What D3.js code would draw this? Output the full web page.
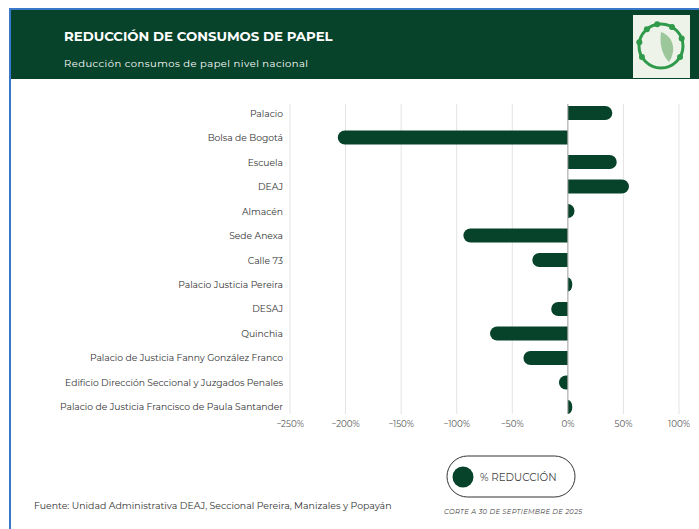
<!DOCTYPE html>
<html>
<head>
<meta charset="utf-8">
<script src="https://cdn.jsdelivr.net/npm/d3@7"></script>
<style>
  body { margin: 0; background: #fff; }
  svg { display: block; font-family: "Montserrat", "Noto Sans", sans-serif; }
</style>
</head>
<body>
<div id="chart"></div>
<script>
// data
const sedes = ["Palacio", "Bolsa de Bogotá", "Escuela", "DEAJ", "Almacén", "Sede Anexa",
  "Calle 73", "Palacio Justicia Pereira", "DESAJ", "Quinchia",
  "Palacio de Justicia Fanny González Franco",
  "Edificio Dirección Seccional y Juzgados Penales",
  "Palacio de Justicia Francisco de Paula Santander"];
const reduccion = [0.40, -2.07, 0.44, 0.55, 0.06, -0.94, -0.32, 0.04, -0.15, -0.70, -0.40, -0.08, 0.04];
const ticks = [-2.5, -2, -1.5, -1, -0.5, 0, 0.5, 1];

const width = 699, height = 529;
const green = "#07432a";

const svg = d3.select("#chart").append("svg")
    .attr("width", width)
    .attr("height", height);

// blue frame
svg.append("rect")
    .attr("x", 10).attr("y", 9)
    .attr("width", width).attr("height", height)
    .attr("fill", "none")
    .attr("stroke", "#3a78c9")
    .attr("stroke-width", 2);

// header band
svg.append("rect")
    .attr("x", 11).attr("y", 10)
    .attr("width", width - 11).attr("height", 69)
    .attr("fill", green);

svg.append("text")
    .attr("x", 64).attr("y", 41)
    .attr("fill", "#fff")
    .attr("font-size", 13.3)
    .attr("font-weight", "bold")
    .text("REDUCCIÓN DE CONSUMOS DE PAPEL");

svg.append("text")
    .attr("x", 64).attr("y", 67)
    .attr("fill", "#fff")
    .attr("font-size", 10)
    .attr("letter-spacing", 0.45)
    .text("Reducción consumos de papel nivel nacional");

// logo (rough)
const logo = svg.append("g").attr("transform", "translate(661,46)");
logo.append("rect")
    .attr("x", -28).attr("y", -31)
    .attr("width", 57).attr("height", 63)
    .attr("fill", "#eef3ea");
logo.append("circle")
    .attr("r", 22)
    .attr("fill", "none")
    .attr("stroke", "#2f9a4a")
    .attr("stroke-width", 3);
logo.append("path")
    .attr("d", "M0,-14 C12,-10 16,4 8,16 C2,10 -2,0 0,-14 Z")
    .attr("fill", "#9cc79a");
logo.selectAll("circle.dot")
    .data([-100, -60, -20, 30, 150, 190, 230])
    .join("circle")
      .attr("class", "dot")
      .attr("cx", d => 22 * Math.cos(d * Math.PI / 180))
      .attr("cy", d => 22 * Math.sin(d * Math.PI / 180))
      .attr("r", 3)
      .attr("fill", "#2f9a4a");

// scales
const x = d3.scaleLinear().domain([-2.5, 1]).range([290, 679]);
const y = d3.scaleBand().domain(sedes).range([101, 419]).paddingInner(0.42).paddingOuter(0.2);

// grid
svg.append("g")
  .selectAll("line")
  .data(ticks)
  .join("line")
    .attr("x1", d => x(d)).attr("x2", d => x(d))
    .attr("y1", 104).attr("y2", 414)
    .attr("stroke", "#e3e3e3")
    .attr("stroke-width", 1);

// tick labels
svg.append("g")
  .selectAll("text")
  .data(ticks)
  .join("text")
    .attr("x", d => x(d))
    .attr("y", 427)
    .attr("text-anchor", "middle")
    .attr("font-size", 8.7)
    .attr("fill", "#555")
    .text(d => d3.format(".0%")(d));

// category labels
svg.append("g")
  .selectAll("text")
  .data(sedes)
  .join("text")
    .attr("x", 283)
    .attr("y", d => y(d) + y.bandwidth() / 2 + 3.5)
    .attr("text-anchor", "end")
    .attr("font-size", 9.2)
    .attr("fill", "#333")
    .text(d => d);

// bars: rounded at the far end only
const r = y.bandwidth() / 2;
function barPath(v, yy) {
  const x0 = x(0), x1 = x(v), h = y.bandwidth();
  const dir = v >= 0 ? 1 : -1;
  const len = Math.abs(x1 - x0);
  const rr = Math.min(r, len);
  const xs = x1 - dir * rr;
  return `M${x0},${yy} L${xs},${yy} A${rr},${r} 0 0 ${dir > 0 ? 1 : 0} ${xs},${yy + h} L${x0},${yy + h} Z`;
}
svg.append("g")
  .selectAll("path")
  .data(sedes)
  .join("path")
    .attr("d", (d, i) => barPath(reduccion[i], y(d)))
    .attr("fill", green);

// zero line
svg.append("line")
    .attr("x1", x(0)).attr("x2", x(0))
    .attr("y1", 104).attr("y2", 414)
    .attr("stroke", "#aaa")
    .attr("stroke-width", 1);

// legend
svg.append("rect")
    .attr("x", 447).attr("y", 456)
    .attr("width", 128).attr("height", 41)
    .attr("rx", 20.5)
    .attr("fill", "#fff")
    .attr("stroke", "#333")
    .attr("stroke-width", 1);
svg.append("circle")
    .attr("cx", 463).attr("cy", 477)
    .attr("r", 10.5)
    .attr("fill", green);
svg.append("text")
    .attr("x", 480).attr("y", 481)
    .attr("font-size", 10.3)
    .attr("fill", "#444")
    .text("% REDUCCIÓN");

svg.append("text")
    .attr("x", 444).attr("y", 514)
    .attr("font-size", 6.8)
    .attr("font-style", "italic")
    .attr("letter-spacing", 0.3)
    .attr("fill", "#444")
    .text("CORTE A 30 DE SEPTIEMBRE DE 2025");

svg.append("text")
    .attr("x", 34).attr("y", 509)
    .attr("font-size", 9.4)
    .attr("fill", "#333")
    .text("Fuente:  Unidad Administrativa DEAJ, Seccional Pereira, Manizales y Popayán");
</script>
</body>
</html>
